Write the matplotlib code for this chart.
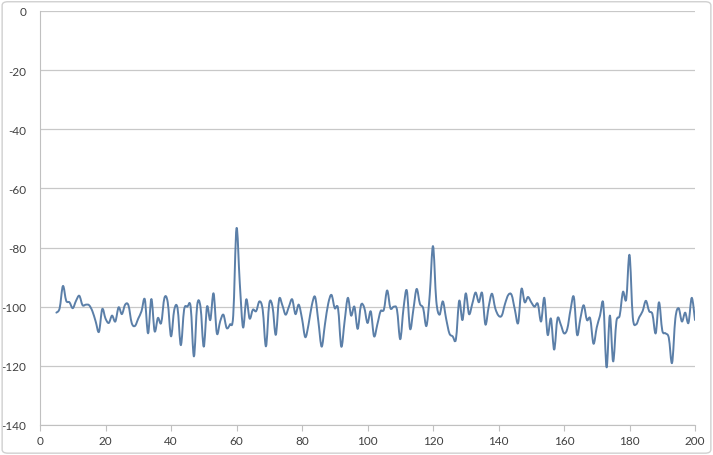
import numpy as np
import matplotlib
matplotlib.use('Agg')
import matplotlib.pyplot as plt
from matplotlib.path import Path
from matplotlib.patches import PathPatch, FancyBboxPatch

plt.rcParams['font.family'] = ['Lato', 'DejaVu Sans']
plt.rcParams['axes.unicode_minus'] = False

# Data
freq = np.arange(5, 201)
level = [
    -102, -100.5, -93, -98, -98.5,                                          # 5-9
    -100.5, -98, -96.3, -99.5, -99.3, -99.5, -101.5, -105, -108.5, -100.8,   # 10-19
    -104, -105.5, -103, -105, -100.2, -102.5, -99.3, -99.5, -105.5, -106.5,  # 20-29
    -104, -101.5, -97.5, -109, -97.4, -108.3, -103.8, -105.5, -97, -98.5,    # 30-39
    -110, -101, -100.5, -113, -101, -100, -100, -116.8, -99.5, -100,         # 40-49
    -113.5, -100, -104.5, -95.5, -109, -105, -102.7, -107.2, -106, -103,     # 50-59
    -73.5, -92, -107, -97.5, -104, -101, -101.5, -98.2, -101, -113.4,        # 60-69
    -99, -100, -109.5, -97.5, -99.5, -102.7, -100, -97.5, -102.5, -99.3,     # 70-79
    -104, -110.3, -106, -99.5, -96.7, -105, -113.5, -106, -99, -96,          # 80-89
    -100.5, -100.5, -113.5, -105, -97, -103, -100, -107.5, -99.5, -100.3,    # 90-99
    -105.5, -101.6, -110, -106, -101.5, -101, -94.5, -100.5, -100, -101,     # 100-109
    -111, -100.5, -94.5, -107.5, -101, -94, -99, -100.5, -106.5, -96,        # 110-119
    -79.5, -98, -102.7, -98.2, -104, -109, -110, -111, -98, -104.5,          # 120-129
    -95.5, -102.5, -99, -95.2, -98.5, -95.4, -106, -100, -95.6, -100.5,      # 130-139
    -103, -103, -99, -96, -96, -101, -105.5, -94, -98.5, -96.7,              # 140-149
    -98.5, -100, -99, -105, -97, -109.5, -104, -114.5, -104, -106,           # 150-159
    -109, -107.5, -101, -96.7, -109.5, -104, -99.5, -104.5, -104, -112.5,    # 160-169
    -107, -103, -99, -120.5, -103, -118.5, -105, -103, -95, -97.5,           # 170-179
    -82.5, -103.5, -106, -103.5, -101.5, -98, -101.5, -102.5, -109, -98.5,   # 180-189
    -108, -109, -110.5, -119, -104, -100.5, -105, -102, -105.5, -97,         # 190-199
    -104.5,                                                                  # 200
]

x_ticks = np.arange(0, 201, 20)
y_ticks = np.arange(-140, 1, 20)

fig = plt.figure(figsize=(7.13, 4.56), dpi=100)
fig.patches.append(FancyBboxPatch((0.003, 0.004), 0.994, 0.99,
                                  boxstyle='round,pad=0,rounding_size=0.008',
                                  transform=fig.transFigure, fill=False,
                                  edgecolor='#d0d0d0', linewidth=1.0))
ax = fig.add_axes([40/713, 30/456, 655/713, 414/456])

# smoothed line, drawn as bezier segments through the data points
pts = np.column_stack([freq, level]).astype(float)
n = len(pts)
verts = [pts[0]]
codes = [Path.MOVETO]
for i in range(n - 1):
    p0 = pts[i - 1] if i > 0 else pts[i]
    p1 = pts[i]
    p2 = pts[i + 1]
    p3 = pts[i + 2] if i + 2 < n else pts[i + 1]
    verts += [p1 + (p2 - p0) / 6, p2 - (p3 - p1) / 6, p2]
    codes += [Path.CURVE4] * 3
ax.add_patch(PathPatch(Path(verts, codes), fill=False, edgecolor='#5b7fa8',
                       linewidth=1.4, capstyle='round', joinstyle='round'))

ax.set_xlim(0, 200)
ax.set_ylim(-140, 0)
ax.set_xticks(x_ticks)
ax.set_yticks(y_ticks)
ax.grid(axis='y', color='#c8c8c8', linewidth=0.9)
ax.set_axisbelow(True)
for s in ['top', 'right']:
    ax.spines[s].set_visible(False)
ax.spines['left'].set_color('#c0c0c0')
ax.spines['bottom'].set_color('#c0c0c0')
ax.tick_params(axis='x', direction='out', length=4, color='#c0c0c0',
               labelsize=8.5, labelcolor='#404040', pad=3)
ax.tick_params(axis='y', length=0, labelsize=8.5, labelcolor='#404040', pad=10)

plt.savefig('out.png', dpi=100)
